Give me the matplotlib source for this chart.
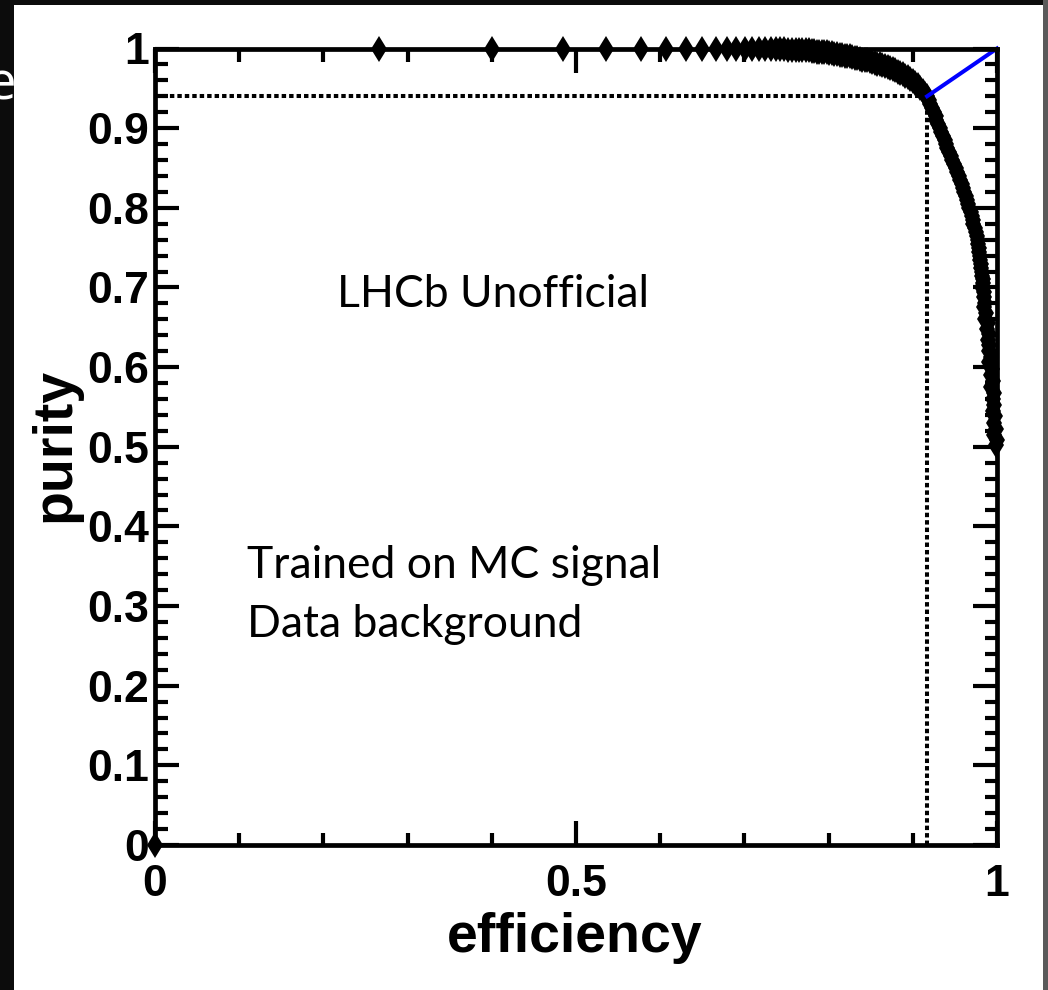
import matplotlib
matplotlib.use("Agg")
import matplotlib.pyplot as plt
from matplotlib.patches import Rectangle
from matplotlib.ticker import MultipleLocator

# ---------------- data ----------------
# sparse points along purity ~ 1
eff_top = [0.000, 0.266, 0.400, 0.484, 0.536, 0.577, 0.607, 0.631, 0.650, 0.666,
           0.679, 0.690, 0.701, 0.709, 0.717, 0.724, 0.731, 0.737, 0.742, 0.747,
           0.752, 0.757, 0.761, 0.765, 0.769, 0.773, 0.777]
pur_top = [0.000, 1.000, 1.000, 1.000, 1.000, 1.000, 1.000, 1.000, 1.000, 1.000,
           1.000, 1.000, 0.999, 0.999, 0.999, 0.999, 0.999, 0.999, 0.999, 0.999,
           0.998, 0.998, 0.998, 0.998, 0.998, 0.998, 0.998]

# dense bend
eff_bend = [0.780, 0.783, 0.786, 0.789, 0.792, 0.795, 0.798, 0.801, 0.804, 0.807,
            0.810, 0.813, 0.816, 0.819, 0.822, 0.825, 0.828, 0.831, 0.834, 0.837,
            0.840, 0.843, 0.846, 0.849, 0.852, 0.855, 0.858, 0.861, 0.864, 0.867,
            0.870, 0.873, 0.876, 0.879, 0.882, 0.885, 0.888, 0.891, 0.894, 0.897,
            0.900, 0.903, 0.906, 0.909, 0.912, 0.915, 0.917]
pur_bend = [0.997, 0.997, 0.996, 0.996, 0.996, 0.995, 0.995, 0.994, 0.994, 0.993,
            0.993, 0.992, 0.992, 0.991, 0.990, 0.990, 0.989, 0.988, 0.988, 0.987,
            0.986, 0.985, 0.985, 0.984, 0.983, 0.982, 0.981, 0.980, 0.979, 0.978,
            0.977, 0.976, 0.974, 0.973, 0.971, 0.969, 0.968, 0.966, 0.964, 0.962,
            0.959, 0.957, 0.954, 0.951, 0.947, 0.943, 0.940]

# steep fall
eff_fall = [0.919, 0.921, 0.923, 0.925, 0.927, 0.928, 0.930, 0.932, 0.934, 0.936,
            0.938, 0.939, 0.941, 0.943, 0.945, 0.947, 0.949, 0.951, 0.953, 0.955,
            0.956, 0.958, 0.960, 0.961, 0.963, 0.964, 0.966, 0.967, 0.969, 0.970,
            0.971, 0.972, 0.974, 0.975, 0.976, 0.977, 0.978, 0.979, 0.979, 0.980,
            0.980, 0.981, 0.981, 0.982, 0.982, 0.983, 0.983, 0.982, 0.985, 0.984,
            0.986, 0.985, 0.987, 0.986, 0.989, 0.988, 0.990, 0.989, 0.991, 0.990,
            0.993, 0.991, 0.994, 0.993, 0.995, 0.993, 0.996, 0.995, 0.997, 0.995,
            0.998, 0.996, 0.999, 0.997, 1.000, 0.999]
pur_fall = [0.935, 0.930, 0.925, 0.920, 0.915, 0.910, 0.905, 0.900, 0.895, 0.890,
            0.885, 0.880, 0.875, 0.870, 0.865, 0.860, 0.855, 0.850, 0.845, 0.840,
            0.835, 0.830, 0.825, 0.820, 0.815, 0.810, 0.805, 0.800, 0.795, 0.790,
            0.785, 0.780, 0.775, 0.770, 0.765, 0.760, 0.755, 0.750, 0.745, 0.740,
            0.735, 0.730, 0.725, 0.720, 0.715, 0.710, 0.705, 0.700, 0.694, 0.688,
            0.681, 0.675, 0.668, 0.661, 0.655, 0.648, 0.641, 0.634, 0.628, 0.620,
            0.613, 0.606, 0.598, 0.590, 0.583, 0.575, 0.568, 0.560, 0.553, 0.545,
            0.538, 0.530, 0.522, 0.515, 0.508, 0.502]

efficiency = eff_top + eff_bend + eff_fall
purity = pur_top + pur_bend + pur_fall

wp_eff = 0.917
wp_pur = 0.940
corner = (1.0, 1.0)

x_ticks = [0, 0.5, 1]
x_tick_labels = ["0", "0.5", "1"]
y_ticks = [0, 0.1, 0.2, 0.3, 0.4, 0.5, 0.6, 0.7, 0.8, 0.9, 1]
y_tick_labels = ["0", "0.1", "0.2", "0.3", "0.4", "0.5", "0.6", "0.7", "0.8", "0.9", "1"]

# ---------------- figure ----------------
W, H = 1048, 990
fig = plt.figure(figsize=(W / 100, H / 100), dpi=100)
fig.patch.set_facecolor("#0c0c0c")
# white slide area
fig.patches.append(Rectangle((14 / W, 0), (1043 - 14) / W, (H - 5) / H,
                             transform=fig.transFigure, facecolor="white",
                             edgecolor="none", zorder=-2))
fig.patches.append(Rectangle((1043 / W, 0), 5 / W, 1, transform=fig.transFigure,
                             facecolor="#5a5a5a", edgecolor="none", zorder=-2))
# cut-off slide letter on the left
fig.text(-14 / W, 1 - 86 / H, "e", color="white", fontsize=38,
         family="Open Sans", ha="left", va="center", zorder=-1)

ax = fig.add_axes([155 / W, 1 - 845 / H, (997 - 155) / W, (845 - 48.5) / H])
ax.set_facecolor("white")
ax.set_xlim(0, 1)
ax.set_ylim(0, 1)

# dotted working-point lines
dot_style = dict(color="black", lw=2.9, linestyle=(0, (1.1, 0.75)), zorder=2,
                 clip_on=False)
ax.plot([0, wp_eff], [wp_pur, wp_pur], **dot_style)
ax.plot([wp_eff, wp_eff], [0, wp_pur], **dot_style)

# curve markers
ax.plot(efficiency, purity, linestyle="none", marker="d", markersize=13,
        color="black", markeredgewidth=0, zorder=3, clip_on=False)

# blue line
ax.plot([wp_eff, corner[0]], [wp_pur, corner[1]], color="#0000ff", lw=2.9,
        zorder=4, clip_on=False)

for s in ax.spines.values():
    s.set_linewidth(3.4)
    s.set_zorder(5)

ax.set_xticks(x_ticks)
ax.set_xticklabels(x_tick_labels)
ax.xaxis.set_minor_locator(MultipleLocator(0.1))
ax.set_yticks(y_ticks)
ax.set_yticklabels(y_tick_labels)
ax.yaxis.set_minor_locator(MultipleLocator(0.02))

ax.tick_params(which="both", direction="in", top=True, right=True, width=3.0,
               color="black")
ax.tick_params(which="major", length=17)
ax.tick_params(which="minor", length=9)
ax.tick_params(axis="y", which="major", pad=4)
ax.tick_params(axis="x", which="major", pad=14)
for lab in ax.get_xticklabels() + ax.get_yticklabels():
    lab.set_fontfamily("Liberation Sans")
    lab.set_fontweight("bold")
    lab.set_fontsize(32)

fig.text(575 / W, 1 - 938 / H, "efficiency", family="Liberation Sans",
         weight="bold", fontsize=40, ha="center", va="center")
fig.text(55 / W, 1 - 445 / H, "purity", family="Liberation Sans",
         weight="bold", fontsize=40, ha="center", va="center", rotation=90)

note_font = dict(family="Lato", fontsize=32, color="black", va="baseline", ha="left")
ax.text(0.216, 0.675, "LHCb Unofficial", **note_font)
ax.text(0.109, 0.335, "Trained on MC signal", **note_font)
ax.text(0.109, 0.261, "Data background", **note_font)

fig.savefig("out.png", dpi=100, facecolor=fig.get_facecolor())
